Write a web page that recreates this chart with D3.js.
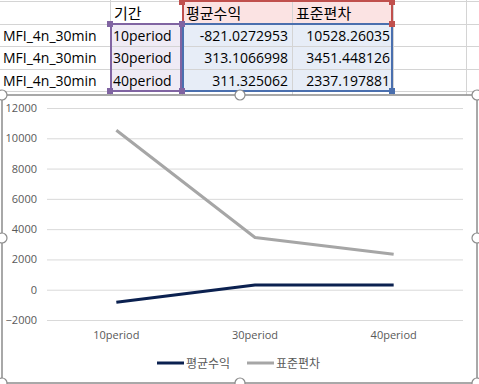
<!DOCTYPE html>
<html><head><meta charset="utf-8">
<script src="https://cdn.jsdelivr.net/npm/d3@7"></script>
<style>body{margin:0;background:#fff}svg{display:block}</style>
</head><body>
<script>
const periods = ["10period", "30period", "40period"];
const meanReturn = [-821.0272953, 313.1066998, 311.325062];
const stdDev = [10528.26035, 3451.448126, 2337.197881];
const meanReturnText = ["-821.0272953", "313.1066998", "311.325062"];
const stdDevText = ["10528.26035", "3451.448126", "2337.197881"];
const seriesNames = ["평균수익", "표준편차"];
const headerPeriod = "기간";
const rowLabel = "MFI_4n_30min";
const yTicks = [-2000, 0, 2000, 4000, 6000, 8000, 10000, 12000];

const W = 479, H = 384;
const svg = d3.select("body").append("svg").attr("width", W).attr("height", H);
const latin = "'Open Sans','Noto Sans CJK KR',sans-serif";
const kor = "'Noto Sans CJK KR','Noto Sans',sans-serif";

// ---- spreadsheet part ----
const colX = [0, 110, 182, 292, 393, 466, 479];
const rowY = [1, 24, 46, 69, 91];
const g = svg.append("g");
g.append("rect").attr("x", 182).attr("y", 1).attr("width", 211).attr("height", 23).attr("fill", "#fbe3e3");
g.append("rect").attr("x", 110).attr("y", 24).attr("width", 72).attr("height", 67).attr("fill", "#efebf5");
g.append("rect").attr("x", 182).attr("y", 24).attr("width", 211).attr("height", 67).attr("fill", "#e7edf7");
colX.slice(1, 6).forEach(x => g.append("line").attr("x1", x + 0.5).attr("x2", x + 0.5).attr("y1", 0).attr("y2", 95).attr("stroke", "#d4d4d4"));
rowY.forEach(y => g.append("line").attr("x1", 0).attr("x2", W).attr("y1", y + 0.5).attr("y2", y + 0.5).attr("stroke", "#d4d4d4"));
g.append("rect").attr("x", 183).attr("y", 1).attr("width", 209).attr("height", 23).attr("fill", "none").attr("stroke", "#c0504d").attr("stroke-width", 2);
g.append("rect").attr("x", 111).attr("y", 24).attr("width", 70).attr("height", 67).attr("fill", "none").attr("stroke", "#8064a2").attr("stroke-width", 2);
g.append("rect").attr("x", 183).attr("y", 24).attr("width", 209).attr("height", 67).attr("fill", "none").attr("stroke", "#4a6fae").attr("stroke-width", 2);
[[182, 2, "#c0504d"], [392, 2, "#c0504d"], [182, 24, "#c0504d"], [392, 24, "#c0504d"],
 [110, 24, "#8064a2"], [182, 24, "#8064a2"], [110, 91, "#8064a2"], [182, 91, "#8064a2"], [392, 91, "#4a6fae"]]
  .forEach(([x, y, c]) => g.append("rect").attr("x", x - 3).attr("y", y - 3).attr("width", 6).attr("height", 6).attr("fill", c));

const korFont = 15, cellFont = 14;
g.append("text").attr("x", 114).attr("y", 19).attr("font-family", kor).attr("font-size", korFont).attr("fill", "#000").text(headerPeriod);
g.append("text").attr("x", 186).attr("y", 19).attr("font-family", kor).attr("font-size", korFont).attr("fill", "#000").text(seriesNames[0]);
g.append("text").attr("x", 296).attr("y", 19).attr("font-family", kor).attr("font-size", korFont).attr("fill", "#000").text(seriesNames[1]);
periods.forEach((p, i) => {
  const y = rowY[i + 1] + 17;
  g.append("text").attr("x", 3).attr("y", y).attr("font-family", latin).attr("font-size", cellFont).text(rowLabel);
  g.append("text").attr("x", 113).attr("y", y).attr("font-family", latin).attr("font-size", cellFont).text(p);
  g.append("text").attr("x", 288).attr("y", y).attr("text-anchor", "end").attr("font-family", latin).attr("font-size", cellFont).text(meanReturnText[i]);
  g.append("text").attr("x", 390).attr("y", y).attr("text-anchor", "end").attr("font-family", latin).attr("font-size", cellFont).text(stdDevText[i]);
});

// ---- chart ----
const c = svg.append("g");
c.append("rect").attr("x", 2).attr("y", 95).attr("width", 475).attr("height", 288).attr("fill", "#fff").attr("stroke", "#8c8c8c").attr("stroke-width", 1.5);

const x = d3.scaleBand().domain(periods).range([47, 463]).padding(0);
const y = d3.scaleLinear().domain([-2000, 12000]).range([320, 108]);

const yAxis = c.append("g").attr("transform", "translate(47,0)")
  .call(d3.axisLeft(y).tickValues(yTicks).tickSize(-416).tickPadding(10).tickFormat(d3.format("d")));
yAxis.select(".domain").remove();
yAxis.selectAll(".tick line").attr("stroke", "#d9d9d9");
yAxis.selectAll(".tick text").attr("font-family", latin).attr("font-size", 11).attr("fill", "#595959");

const xAxis = c.append("g").attr("transform", "translate(0,320)")
  .call(d3.axisBottom(x).tickSize(0).tickPadding(11));
xAxis.select(".domain").remove();
xAxis.selectAll(".tick text").attr("font-family", latin).attr("font-size", 11).attr("fill", "#595959");

const cx = d => x(d) + x.bandwidth() / 2;
const line = d3.line().x(d => cx(d.p)).y(d => y(d.v));
const colors = ["#0b2150", "#a6a6a6"];
[meanReturn, stdDev].forEach((arr, k) => {
  c.append("path").datum(periods.map((p, i) => ({p, v: arr[i]})))
    .attr("d", line).attr("fill", "none").attr("stroke", colors[k]).attr("stroke-width", 3).attr("stroke-linejoin", "round");
});

const legendX = [157, 247];
seriesNames.forEach((n, k) => {
  c.append("line").attr("x1", legendX[k]).attr("x2", legendX[k] + 27).attr("y1", 363).attr("y2", 363).attr("stroke", colors[k]).attr("stroke-width", 3);
  c.append("text").attr("x", legendX[k] + 29).attr("y", 367.5).attr("font-family", kor).attr("font-size", 12).attr("fill", "#595959").text(n);
});

[[2, 95], [240, 95], [477, 95], [2, 238], [477, 238], [2, 383], [240, 383], [477, 383]].forEach(([hx, hy]) =>
  c.append("circle").attr("cx", hx).attr("cy", hy).attr("r", 5).attr("fill", "#fff").attr("stroke", "#8c8c8c").attr("stroke-width", 1.2));
</script>
</body></html>
